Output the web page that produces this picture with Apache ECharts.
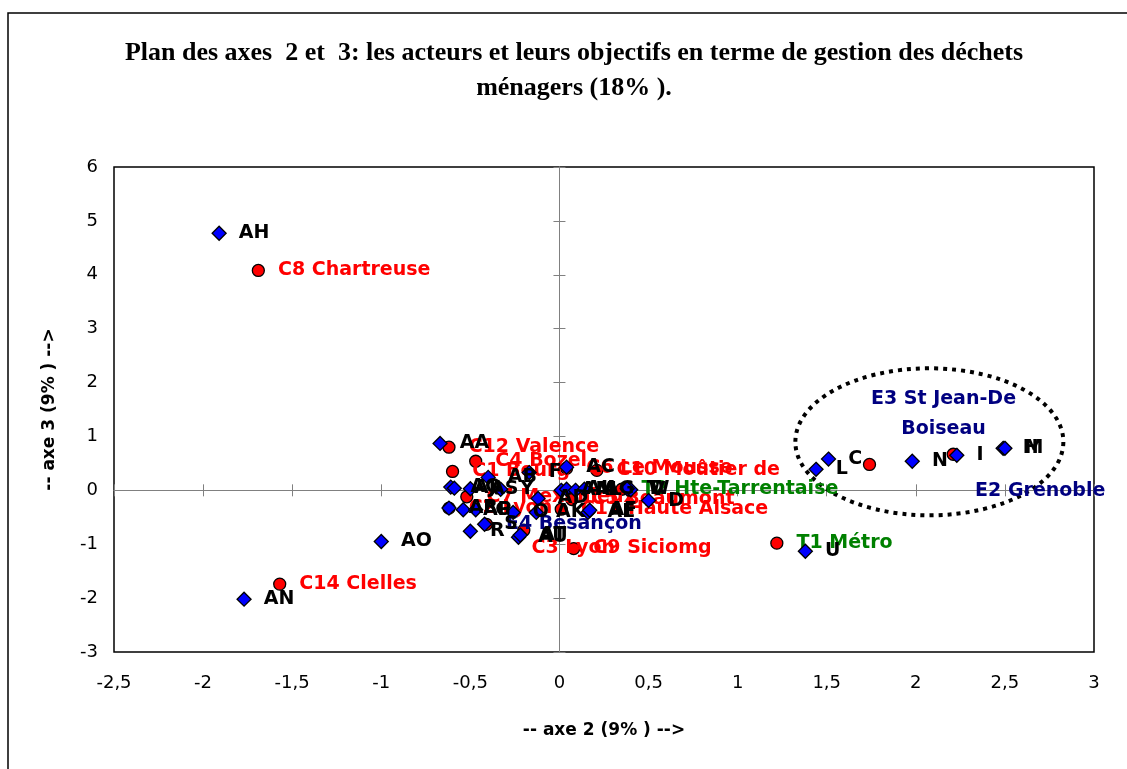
<!DOCTYPE html>
<html><head><meta charset="utf-8">
<script src="https://cdn.jsdelivr.net/npm/echarts@6/dist/echarts.min.js"></script>
<style>html,body{margin:0;padding:0;background:#fff}#c{width:1127px;height:769px}</style>
</head><body><div id="c"></div>
<script>
// ---- data ----
const xTicks = [-2.5, 3, 0.5];   // min, max, step
const yTicks = [-3, 6, 1];
const objNames = ['AH','AN','AO','AA','U','L','C','N','I','H','M','AB','F','AC','AQ','AJ','AS','Y','AM','AI','AL','AG','W','V','T','D','AD','O','AK','AE','AF','AR','AP','G','R','S','AU','AT'];
const objX = [-1.91,-1.77,-1.00,-0.67,1.38,1.44,1.51,1.98,2.23,2.49,2.50,-0.40,-0.17,0.04,-0.61,-0.59,-0.50,-0.33,0.01,0.04,0.09,0.14,0.39,0.40,0.38,0.50,-0.12,-0.26,-0.13,0.16,0.17,-0.62,-0.54,-0.47,-0.50,-0.42,-0.23,-0.22];
const objY = [4.77,-2.02,-0.95,0.87,-1.13,0.39,0.58,0.54,0.65,0.78,0.78,0.24,0.33,0.43,0.06,0.04,0.03,0.02,0.00,0.02,0.00,0.02,0.02,0.01,0.03,-0.19,-0.15,-0.41,-0.41,-0.41,-0.37,-0.33,-0.36,-0.36,-0.76,-0.63,-0.87,-0.83];

const cNames = ['C8 Chartreuse','C14 Clelles','C12 Valence','C1 Bourg','C4 Bozel','C7 Meximieux','C2 Lyon','C6 Le Mousse','C10 Moûtier de','C11 Haute Alsace','C5 Beaumont','C3 Lyon','C9 Siciomg'];
const cX = [-1.69,-1.57,-0.62,-0.60,-0.47,-0.52,-0.62,0.04,0.21,0.01,0.07,-0.20,0.08];
const cY = [4.08,-1.74,0.80,0.35,0.54,-0.12,-0.33,0.41,0.37,-0.35,-0.17,-0.74,-1.08];

const tNames = ['T1 Métro','T2 Hte-Tarrentaise'];
const tX = [1.22, 0.35];
const tY = [-0.98, 0.02];

const eNames = ['E3 St Jean-De\nBoiseau','E2 Grenoble','E4 Besançon'];
const eX = [1.74, 2.21, -0.41];
const eY = [0.48, 0.67, -0.63];

// annotation ellipse (data units)
const ellipseC = [2.076, 0.90];
const ellipseR = [0.752, 1.364];

// ---- styles ----
const FONT = 'DejaVu Sans';
// label placement overrides (pixels), keyed by series index in its name list
const eLabelStyle = [
  {position:'inside', offset:[74,-50], align:'center', lineHeight:30},
  {position:'inside', offset:[87,37], align:'center'},
  null
];
const cLabelStyle = [null,null,null,null,null,null,null,null,null,null,null,{offset:[-12,18]},null];

function pts(xs, ys, names, extra){
  return xs.map((x,i)=>{
    const d = {value:[x, ys[i]], name:names[i]};
    if (extra && extra[i]) d.label = extra[i];
    return d;
  });
}
function lbl(color, dist){
  return {show:true, position:'right', distance:dist, formatter:'{b}', color:color,
    fontFamily:FONT, fontWeight:'bold', fontSize:19};
}

const chart = echarts.init(document.getElementById('c'), null, {renderer:'canvas'});
const fmt = v => String(v).replace('.', ',');
const baseX = {type:'value', min:xTicks[0], max:xTicks[1], interval:xTicks[2], splitLine:{show:false}};
const baseY = {type:'value', min:yTicks[0], max:yTicks[1], interval:yTicks[2], splitLine:{show:false}};
const zeroLine = {color:'#808080', width:1};

chart.setOption({
  animation:false,
  backgroundColor:'#fff',
  grid:{left:114, top:167, right:33, bottom:117, show:true, borderColor:'#000', borderWidth:1.5, backgroundColor:'transparent'},
  xAxis:[
    Object.assign({}, baseX, {position:'bottom', axisLine:{show:false, onZero:false}, axisTick:{show:false},
      axisLabel:{color:'#000', fontFamily:FONT, fontSize:18, margin:22, formatter:fmt},
      name:'-- axe 2 (9% ) -->', nameLocation:'middle', nameGap:70,
      nameTextStyle:{color:'#000', fontFamily:FONT, fontWeight:'bold', fontSize:17}}),
    Object.assign({}, baseX, {axisLine:{show:true, onZero:true, onZeroAxisIndex:0, lineStyle:zeroLine},
      axisTick:{show:true, inside:false, length:6, lineStyle:zeroLine}, axisLabel:{show:false}}),
    Object.assign({}, baseX, {axisLine:{show:true, onZero:true, onZeroAxisIndex:0, lineStyle:zeroLine},
      axisTick:{show:true, inside:true, length:6, lineStyle:zeroLine}, axisLabel:{show:false}})
  ],
  yAxis:[
    Object.assign({}, baseY, {position:'left', axisLine:{show:false, onZero:false}, axisTick:{show:false},
      axisLabel:{color:'#000', fontFamily:FONT, fontSize:18, margin:16},
      name:'-- axe 3 (9% ) -->', nameLocation:'middle', nameGap:56, nameRotate:90,
      nameTextStyle:{color:'#000', fontFamily:FONT, fontWeight:'bold', fontSize:17}}),
    Object.assign({}, baseY, {position:'left', axisLine:{show:true, onZero:true, onZeroAxisIndex:0, lineStyle:zeroLine},
      axisTick:{show:true, inside:false, length:6, lineStyle:zeroLine}, axisLabel:{show:false}}),
    Object.assign({}, baseY, {position:'left', axisLine:{show:true, onZero:true, onZeroAxisIndex:0, lineStyle:zeroLine},
      axisTick:{show:true, inside:true, length:6, lineStyle:zeroLine}, axisLabel:{show:false}})
  ],
  graphic:[
    {id:'frame', type:'rect', silent:true, z:-10, shape:{x:8, y:13, width:1400, height:1000},
      style:{fill:'none', stroke:'#000', lineWidth:1.5}},
    {id:'title', type:'text', x:574, y:71, silent:true,
      style:{text:'Plan des axes  2 et  3: les acteurs et leurs objectifs en terme de gestion des déchets\nménagers (18% ).',
        fill:'#000', font:'bold 26px "Liberation Serif"', align:'center', verticalAlign:'middle', lineHeight:35}}
  ],
  series:[
    {type:'scatter', name:'objectifs', symbol:'diamond', symbolSize:14, z:3,
      itemStyle:{color:'#0000FF', borderColor:'#000', borderWidth:1.3, opacity:1},
      label:lbl('#000', 12), data:pts(objX, objY, objNames)},
    {type:'scatter', name:'C', symbol:'circle', symbolSize:12, z:2,
      itemStyle:{color:'#FF0000', borderColor:'#000', borderWidth:1.3, opacity:1},
      label:lbl('#FF0000', 13), data:pts(cX, cY, cNames, cLabelStyle)},
    {type:'scatter', name:'T', symbol:'circle', symbolSize:12, z:2,
      itemStyle:{color:'#FF0000', borderColor:'#000', borderWidth:1.3, opacity:1},
      label:lbl('#008000', 13), data:pts(tX, tY, tNames)},
    {type:'scatter', name:'E', symbol:'circle', symbolSize:12, z:2,
      itemStyle:{color:'#FF0000', borderColor:'#000', borderWidth:1.3, opacity:1},
      label:lbl('#000080', 13), data:pts(eX, eY, eNames, eLabelStyle)}
  ]
});

// dotted ellipse annotation, placed through the axes' scales
const c0 = chart.convertToPixel({xAxisIndex:0, yAxisIndex:0}, ellipseC);
const c1 = chart.convertToPixel({xAxisIndex:0, yAxisIndex:0}, [ellipseC[0]+ellipseR[0], ellipseC[1]+ellipseR[1]]);
chart.setOption({graphic:[{id:'ellipse', type:'ellipse', silent:true, z:1,
  shape:{cx:c0[0], cy:c0[1], rx:Math.abs(c1[0]-c0[0]), ry:Math.abs(c1[1]-c0[1])},
  style:{fill:'none', stroke:'#000', lineWidth:4, lineDash:[4,5]}}]});
</script>
</body></html>
